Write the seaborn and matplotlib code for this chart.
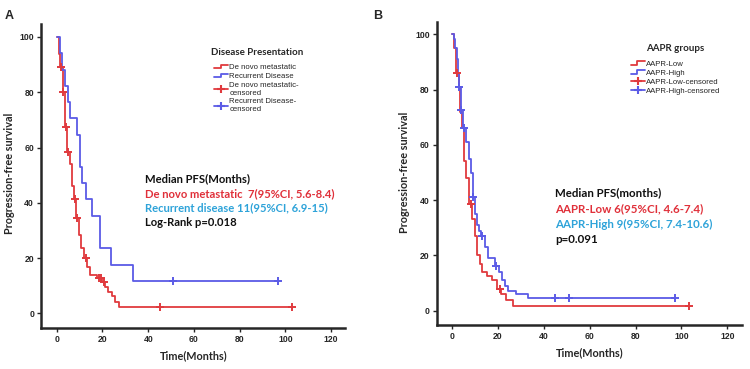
import numpy as np
import pandas as pd
import matplotlib
matplotlib.use("Agg")
import matplotlib.pyplot as plt
import seaborn as sns
from matplotlib.lines import Line2D
from matplotlib.legend_handler import HandlerBase

# ---- Panel A: Disease presentation (step curve points: time, survival %)
a_novo_t = [0, 0.9, 1.5, 2.6, 3.6, 4.4, 5.8, 6.7, 7.6, 8.5, 9.6, 10.5, 11.7,
            13.4, 14.6, 17.8, 19.7, 21.1, 22.2, 24.0, 25.5, 27.4, 103]
a_novo_s = [100, 94, 89, 80, 67.5, 58.5, 54, 46, 41.4, 34.4, 28.3, 23.5, 19.9,
            16.9, 13.9, 12.7, 11.5, 9.6, 7.8, 6.3, 4.2, 2.2, 2.2]
a_novo_cens_t = [1.9, 2.9, 3.9, 5.1, 8.0, 9.0, 12.8, 18.5, 19.2, 20.6, 45, 103]
a_novo_cens_s = [89, 80, 67.5, 58.5, 41.4, 34.4, 19.9, 12.7, 12.7, 11.5, 2.2, 2.2]

a_rec_t = [0, 1.2, 2.3, 3.8, 4.8, 5.8, 9.0, 10.2, 11.2, 12.8, 15.3, 18.7, 23.8, 33.2, 97]
a_rec_s = [100, 94.1, 88.2, 82.4, 76.5, 70.6, 64.7, 52.9, 47.1, 41.2, 35.3, 23.5,
           17.6, 11.8, 11.8]
a_rec_cens_t = [51, 97]
a_rec_cens_s = [11.8, 11.8]

# ---- Panel B: AAPR groups
b_low_t = [0, 0.9, 1.5, 1.9, 3.0, 3.5, 4.3, 5.2, 6.2, 7.2, 8.8, 9.8, 10.8, 12.0,
           13.0, 15.4, 17.4, 19.4, 21.3, 23.5, 26.6, 103.5]
b_low_s = [100, 95, 91, 86, 81, 72, 66, 54, 48, 38.5, 33, 27, 20, 17, 14, 12.6,
           11, 8, 6, 4, 1.7, 1.7]
b_low_cens_t = [2.2, 8.1, 20.7, 103.5]
b_low_cens_s = [86, 38.5, 8, 1.7]

b_high_t = [0, 0.8, 1.3, 2.0, 2.7, 3.0, 3.7, 4.9, 6.2, 7.4, 8.3, 9.0, 10.2, 11.0,
            11.8, 12.5, 14.3, 15.8, 18.6, 20.3, 21.8, 23.2, 24.6, 28.0, 33.3, 97]
b_high_s = [100, 98.5, 95, 91, 86, 81, 72.5, 66, 61, 55, 50, 41, 35, 31, 29, 27,
            23, 19, 16, 14, 11, 9, 7, 6, 4.5, 4.5]
b_high_cens_t = [3.1, 3.9, 5.2, 9.3, 13.0, 19.2, 45, 51, 97]
b_high_cens_s = [81, 72.5, 66, 41, 27, 16, 4.5, 4.5, 4.5]

xticks = [0, 20, 40, 60, 80, 100, 120]
yticks = [0, 20, 40, 60, 80, 100]

RED = "#e03a3e"
BLUE = "#5b5be6"
TXT_RED = "#e0303a"
TXT_BLUE = "#2ea3d9"

sns.set_style("ticks")
plt.rcParams["font.family"] = ["Liberation Sans", "DejaVu Sans"]

W, H = 750, 369
fig = plt.figure(figsize=(W / 100, H / 100), dpi=100)


def fpos(x, y):
    return x / W, 1 - y / H


class StepHandler(HandlerBase):
    def create_artists(self, legend, orig_handle, xdescent, ydescent, width,
                       height, fontsize, trans):
        x0 = -xdescent
        y0 = -ydescent + height * 0.15
        y1 = -ydescent + height * 0.85
        xs = [x0, x0 + width * 0.45, x0 + width * 0.45, x0 + width]
        ys = [y0, y0, y1, y1]
        ln = Line2D(xs, ys, color=orig_handle.get_color(),
                    lw=orig_handle.get_linewidth(), transform=trans)
        return [ln]


def km_panel(ax, curves, xlim, ylim):
    for t, s, ct, cs, col in curves:
        sns.lineplot(x=t, y=s, ax=ax, color=col, lw=1.3, drawstyle="steps-post",
                     estimator=None, sort=False)
        sns.scatterplot(x=ct, y=cs, ax=ax, color=col, marker="+", s=30,
                        linewidth=1.4, zorder=3)
    ax.set_xlim(*xlim)
    ax.set_ylim(*ylim)
    ax.set_xticks(xticks)
    ax.set_yticks(yticks)
    ax.set_xlabel("")
    ax.set_ylabel("")
    sns.despine(ax=ax)
    for sp in ["left", "bottom"]:
        ax.spines[sp].set_linewidth(1.8)
    ax.tick_params(direction="out", length=3, width=1, labelsize=6.2, pad=2)
    for lab in ax.get_xticklabels() + ax.get_yticklabels():
        lab.set_fontweight("bold")
    ax.set_facecolor("white")


def add_legend(ax, title, labels, cx, ty):
    handles = [Line2D([], [], color=RED, lw=1.3),
               Line2D([], [], color=BLUE, lw=1.3),
               Line2D([], [], color=RED, lw=1.3, marker="+", ms=6, mew=1.5),
               Line2D([], [], color=BLUE, lw=1.3, marker="+", ms=6, mew=1.5)]
    leg = ax.legend(handles, labels, title=title, loc="upper center",
                    bbox_to_anchor=fpos(cx, ty), bbox_transform=fig.transFigure,
                    frameon=False, fontsize=5.6, handlelength=1.8,
                    handletextpad=0.15, labelspacing=0.2, borderpad=0,
                    alignment="center",
                    handler_map={handles[0]: StepHandler(), handles[1]: StepHandler()},
                    title_fontproperties={"family": "Lato", "weight": "bold",
                                          "size": 7})
    leg._legend_box.sep = 5
    return leg


# Panel A
axA = fig.add_axes([41 / W, 1 - 328 / H, 304 / W, 304 / H])
km_panel(axA, [(a_novo_t, a_novo_s, a_novo_cens_t, a_novo_cens_s, RED),
               (a_rec_t, a_rec_s, a_rec_cens_t, a_rec_cens_s, BLUE)],
         (-6.9, 126.1), (-5.3, 104.7))
add_legend(axA, "Disease Presentation",
           ["De novo metastatic", "Recurrent Disease",
            "De novo metastatic-\ncensored", "Recurrent Disease-\ncensored"],
           256.7, 44)

# Panel B
axB = fig.add_axes([436.7 / W, 1 - 325 / H, 305 / W, 303.3 / H])
km_panel(axB, [(b_low_t, b_low_s, b_low_cens_t, b_low_cens_s, RED),
               (b_high_t, b_high_s, b_high_cens_t, b_high_cens_s, BLUE)],
         (-6.7, 126.3), (-5.2, 104.6))
add_legend(axB, "AAPR groups",
           ["AAPR-Low", "AAPR-High", "AAPR-Low-censored", "AAPR-High-censored"],
           675.5, 40.5)

bold = {"family": "Lato", "weight": "bold"}

# annotations (data coordinates)
ann_A = [("Median PFS(Months)", "#111111", 48.6),
         ("De novo metastatic  7(95%CI, 5.6-8.4)", TXT_RED, 43.4),
         ("Recurrent disease 11(95%CI, 6.9-15)", TXT_BLUE, 38.1),
         ("Log-Rank p=0.018", "#111111", 33.0)]
for txt, col, y in ann_A:
    axA.text(38.6, y, txt, color=col, fontsize=8.1, va="center", ha="left", **bold)

ann_B = [("Median PFS(months)", "#111111", 42.6),
         ("AAPR-Low 6(95%CI, 4.6-7.4)", TXT_RED, 37.0),
         ("AAPR-High 9(95%CI, 7.4-10.6)", TXT_BLUE, 31.2),
         ("p=0.091", "#111111", 25.6)]
for txt, col, y in ann_B:
    axB.text(44.9, y, txt, color=col, fontsize=8.3, va="center", ha="left", **bold)

# axis labels
fig.text(*fpos(10, 173), "Progression-free survival", rotation=90, ha="center",
         va="center", fontsize=7.8, **bold)
fig.text(*fpos(194, 356), "Time(Months)", ha="center", va="center", fontsize=7.8, **bold)
fig.text(*fpos(405, 172), "Progression-free survival", rotation=90, ha="center",
         va="center", fontsize=7.8, **bold)
fig.text(*fpos(590, 353), "Time(Months)", ha="center", va="center", fontsize=7.8, **bold)

# panel letters
fig.text(*fpos(9, 16), "A", ha="center", va="center", fontsize=9, fontweight="bold")
fig.text(*fpos(378, 16), "B", ha="center", va="center", fontsize=9, fontweight="bold")

fig.savefig("out.png", dpi=100, facecolor="white")
